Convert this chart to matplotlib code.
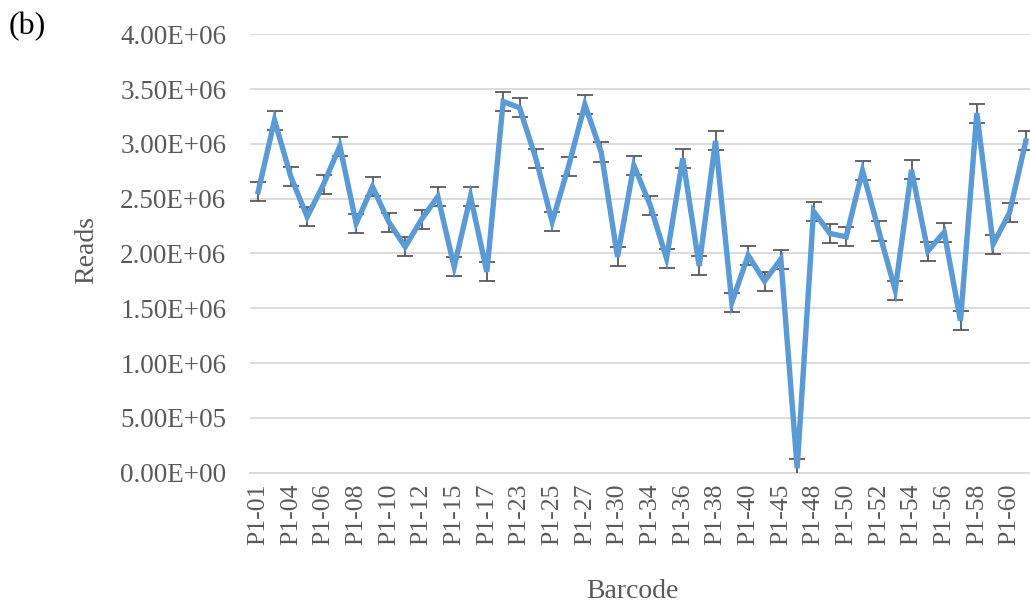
import matplotlib.pyplot as plt
import numpy as np

barcodes = ["P1-01", "P1-02", "P1-04", "P1-05", "P1-06", "P1-07", "P1-08", "P1-09",
            "P1-10", "P1-11", "P1-12", "P1-13", "P1-15", "P1-16", "P1-17", "P1-18",
            "P1-23", "P1-24", "P1-25", "P1-26", "P1-27", "P1-28", "P1-30", "P1-31",
            "P1-34", "P1-35", "P1-36", "P1-37", "P1-38", "P1-39", "P1-40", "P1-41",
            "P1-45", "P1-46", "P1-48", "P1-49", "P1-50", "P1-51", "P1-52", "P1-53",
            "P1-54", "P1-55", "P1-56", "P1-57", "P1-58", "P1-59", "P1-60", "P1-61"]

reads = [2.563e6, 3.216e6, 2.700e6, 2.335e6, 2.630e6, 2.980e6, 2.274e6, 2.609e6,
         2.286e6, 2.060e6, 2.310e6, 2.520e6, 1.877e6, 2.520e6, 1.832e6, 3.386e6,
         3.330e6, 2.868e6, 2.289e6, 2.793e6, 3.358e6, 2.926e6, 1.968e6, 2.804e6,
         2.441e6, 1.955e6, 2.868e6, 1.886e6, 3.027e6, 1.552e6, 1.984e6, 1.747e6,
         1.948e6, 0.040e6, 2.384e6, 2.183e6, 2.152e6, 2.755e6, 2.205e6, 1.666e6,
         2.763e6, 2.021e6, 2.195e6, 1.386e6, 3.281e6, 2.085e6, 2.371e6, 3.027e6]

errors = [0.087e6] * len(reads)

grey = "#595959"
fig = plt.figure(figsize=(10.3, 6.06), dpi=100)
ax = fig.add_axes([250 / 1030, (606 - 472.6) / 606, 784 / 1030, (472.6 - 34.3) / 606])

x = np.arange(len(reads))
ax.errorbar(x, reads, yerr=errors, color="#5B9BD5", lw=3.9, ecolor=grey,
            elinewidth=1.3, capsize=5.5, capthick=1.3, zorder=3, solid_joinstyle="miter")

ax.set_xlim(-0.5, len(reads) - 0.5)
ax.set_ylim(0, 4.0e6)
ax.set_yticks(np.arange(0, 4.01e6, 0.5e6))
ax.set_yticklabels([f"{v:.2E}" for v in np.arange(0, 4.01e6, 0.5e6)])
ax.set_xticks(x[::2])
ax.set_xticklabels(barcodes[::2], rotation=90)

ax.grid(axis="y", color="#d9d9d9", lw=1.3, zorder=0)
ax.set_axisbelow(True)
for s in ["left", "right", "top"]:
    ax.spines[s].set_visible(False)
ax.spines["bottom"].set_color("#d9d9d9")
ax.spines["bottom"].set_linewidth(1.3)

font = "Liberation Serif"
ax.tick_params(axis="both", length=0, labelcolor=grey)
ax.tick_params(axis="y", pad=17, labelsize=19.5)
ax.tick_params(axis="x", pad=8, labelsize=18.5)
for lab in ax.get_xticklabels() + ax.get_yticklabels():
    lab.set_fontfamily(font)

fig.text(87 / 1030, 1 - 250 / 606, "Reads", rotation=90, ha="center", va="center",
         fontsize=20, color=grey, family=font)
fig.text(632 / 1030, 1 - 592 / 606, "Barcode", ha="center", va="center",
         fontsize=20, color=grey, family=font)
fig.text(9 / 1030, 1 - 27 / 606, "(b)", ha="left", va="center",
         fontsize=23, color="black", family=font)

fig.savefig("out.png", dpi=100)
